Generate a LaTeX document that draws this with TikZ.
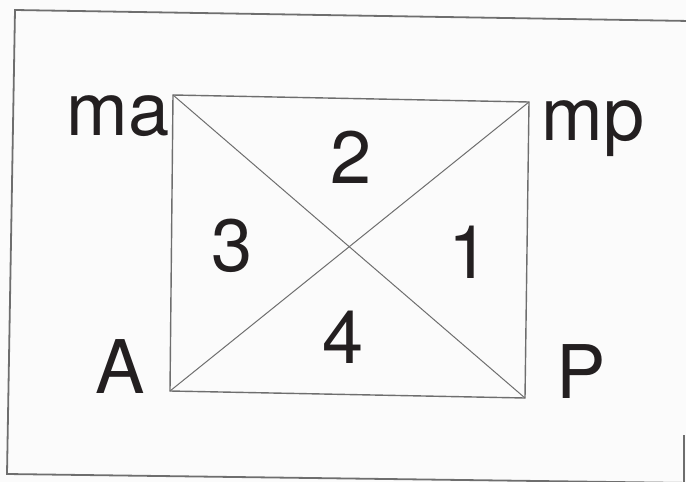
\documentclass[tikz,border=0pt]{standalone}
\usepackage{fontspec}
\setmainfont{TeX Gyre Heros}
\definecolor{ink}{HTML}{231F20}
\definecolor{edge}{HTML}{6E6E6E}
\definecolor{paper}{HTML}{FBFBFB}
\begin{document}
\begin{tikzpicture}[x=1pt,y=-1pt,
  lbl/.style={inner sep=0pt, anchor=base, text=ink, font=\fontsize{74}{74}\selectfont},
  framestyle/.style={draw=edge, line width=1.8pt},
  boxstyle/.style={draw=edge, line width=1.4pt},
  diagstyle/.style={draw=edge, line width=1pt}]
\fill[paper] (0,0) rectangle (686,482);
\useasboundingbox (0,0) rectangle (686,482);
\clip (0,0) rectangle (686,482);
% outer frame
\coordinate (fTL) at (15,10);
\coordinate (fTR) at (690,21);
\coordinate (fBL) at (7,474);
\coordinate (fBR) at (690,483);
\coordinate (fRT) at (684,435);
\coordinate (fRB) at (684,486);
\draw[framestyle] (fTR) -- (fTL) -- (fBL) -- (fBR);
\draw[framestyle] (fRT) -- (fRB);
% inner box corners
\coordinate (cma) at (173,95);
\coordinate (cmp) at (529,102);
\coordinate (cP) at (525,398);
\coordinate (cA) at (170,391);
\draw[boxstyle] (cma) -- (cmp) -- (cP) -- (cA) -- cycle;
\draw[diagstyle] (cma) -- (cP);
\draw[diagstyle] (cmp) -- (cA);
% labels
\node[lbl] (ma) at (118,135) {ma};
\node[lbl] (mp) at (593,140) {mp};
\node[lbl] (A) at (120,393) {A};
\node[lbl] (P) at (581,398) {P};
\node[lbl] (n2) at (351,183) {2};
\node[lbl] (n3) at (232,271) {3};
\node[lbl] (n1) at (469,278) {1};
\node[lbl] (n4) at (343,363) {4};
\end{tikzpicture}
\end{document}
